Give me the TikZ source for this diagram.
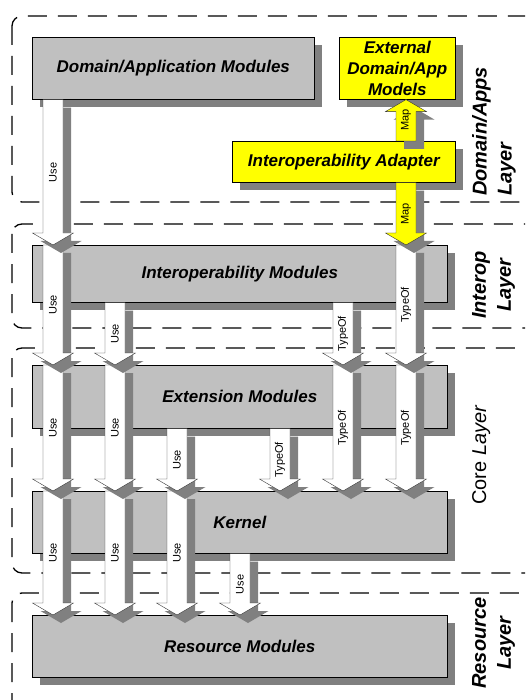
\documentclass[tikz,border=0pt]{standalone}
\usepackage{fontspec}
\setmainfont{Liberation Sans}
\usetikzlibrary{calc, shadows}
\definecolor{BoxGray}{HTML}{C0C0C0}
\definecolor{ShadowGray}{HTML}{808080}
\definecolor{AdapterYellow}{HTML}{FFFF00}

\tikzset{
  layerframe/.style={draw=black, line width=1.3pt, dash pattern=on 19pt off 11pt, rounded corners=10pt},
  modbox/.style={draw=black, line width=0.6pt, fill=BoxGray, anchor=north west, inner sep=0pt,
    align=center, font=\fontsize{17}{21}\selectfont\bfseries\itshape,
    drop shadow={shadow xshift=8pt, shadow yshift=-8pt, fill=ShadowGray, opacity=1}},
  yellowbox/.style={modbox, fill=AdapterYellow},
  layerlabel/.style={rotate=90, inner sep=0pt, font=\fontsize{20}{25}\selectfont\bfseries\itshape},
  arrowlabel/.style={rotate=90, inner sep=0pt, font=\fontsize{11}{13}\selectfont},
  blockarrow/.style={draw=black!80, line width=0.4pt,
    preaction={fill=ShadowGray, transform canvas={shift={(8pt,-8pt)}}}},
}

% block arrow: [fill] {x of shaft} {from anchor} {to anchor} {label}
\newcommand{\flowarrow}[5][white]{%
  \coordinate (fs) at (#2,0 |- #3);
  \coordinate (fe) at (#2,0 |- #4);
  \coordinate (fh) at ($(fe)!12pt!(fs)$);
  \filldraw[blockarrow, fill=#1] ($(fs)+(-10,0)$) -- ($(fh)+(-10,0)$) -- ($(fh)+(-20.5,0)$)
    -- (fe) -- ($(fh)+(20.5,0)$) -- ($(fh)+(10,0)$) -- ($(fs)+(10,0)$) -- cycle;
  \node[arrowlabel] at ($(fs)!0.5!(fe)$) {#5};
}

\begin{document}
\begin{tikzpicture}[x=1pt, y=-1pt]
  \useasboundingbox (0,0) rectangle (525,700);
  \clip (0,0) rectangle (525,700);

  % layers
  \draw[layerframe] (12,16) rectangle (560,202);
  \draw[layerframe] (12,224) rectangle (560,328);
  \draw[layerframe] (12,348) rectangle (560,573);
  \draw[layerframe] (12,593) rectangle (560,730);

  \node[layerlabel, align=left, anchor=north west] (domlbl) at (472,196) {Domain/Apps\\Layer};
  \node[layerlabel, align=center, anchor=north] (interlbl) at (472,285) {Interop\\Layer};
  \node[layerlabel, anchor=north, font=\fontsize{20}{25}\selectfont] (corelbl) at (472,455) {Core \textit{Layer}};
  \node[layerlabel, align=center, anchor=north] (reslbl) at (472,643) {Resource\\Layer};

  % modules
  \node[modbox, minimum width=282, minimum height=62] (dom) at (32,37) {Domain/Application Modules};
  \node[yellowbox, minimum width=116, minimum height=62] (ext) at (339,37) {External\\Domain/App\\Models};
  \node[yellowbox, minimum width=223, minimum height=41] (adapter) at (232,141) {Interoperability Adapter};
  \node[modbox, minimum width=415, minimum height=57] (interop) at (32,245) {Interoperability Modules};
  \node[modbox, minimum width=415, minimum height=63] (extmod) at (32,365) {Extension Modules};
  \node[modbox, minimum width=415, minimum height=62] (kernel) at (32,491) {Kernel};
  \node[modbox, minimum width=415, minimum height=62] (resource) at (32,615) {Resource Modules};

  % kernel -> resource
  \flowarrow{53}{kernel.north}{resource.north}{Use}
  \flowarrow{115}{kernel.north}{resource.north}{Use}
  \flowarrow{177}{kernel.north}{resource.north}{Use}
  \flowarrow{240}{kernel.south}{resource.north}{Use}
  % extension -> kernel
  \flowarrow{53}{extmod.north}{kernel.north}{Use}
  \flowarrow{115}{extmod.north}{kernel.north}{Use}
  \flowarrow{177}{extmod.south}{kernel.north}{Use}
  \flowarrow{280}{extmod.south}{kernel.north}{TypeOf}
  \flowarrow{343}{extmod.north}{kernel.north}{TypeOf}
  \flowarrow{406}{extmod.north}{kernel.north}{TypeOf}
  % interop -> extension
  \flowarrow{53}{interop.north}{extmod.north}{Use}
  \flowarrow{115}{interop.south}{extmod.north}{Use}
  \flowarrow{343}{interop.south}{extmod.north}{TypeOf}
  \flowarrow{406}{interop.north}{extmod.north}{TypeOf}
  % domain / adapter
  \flowarrow{53}{dom.south}{interop.north}{Use}
  \flowarrow[AdapterYellow]{406}{adapter.south}{interop.north}{Map}
  \flowarrow[AdapterYellow]{406}{adapter.north}{ext.south}{Map}
\end{tikzpicture}
\end{document}
